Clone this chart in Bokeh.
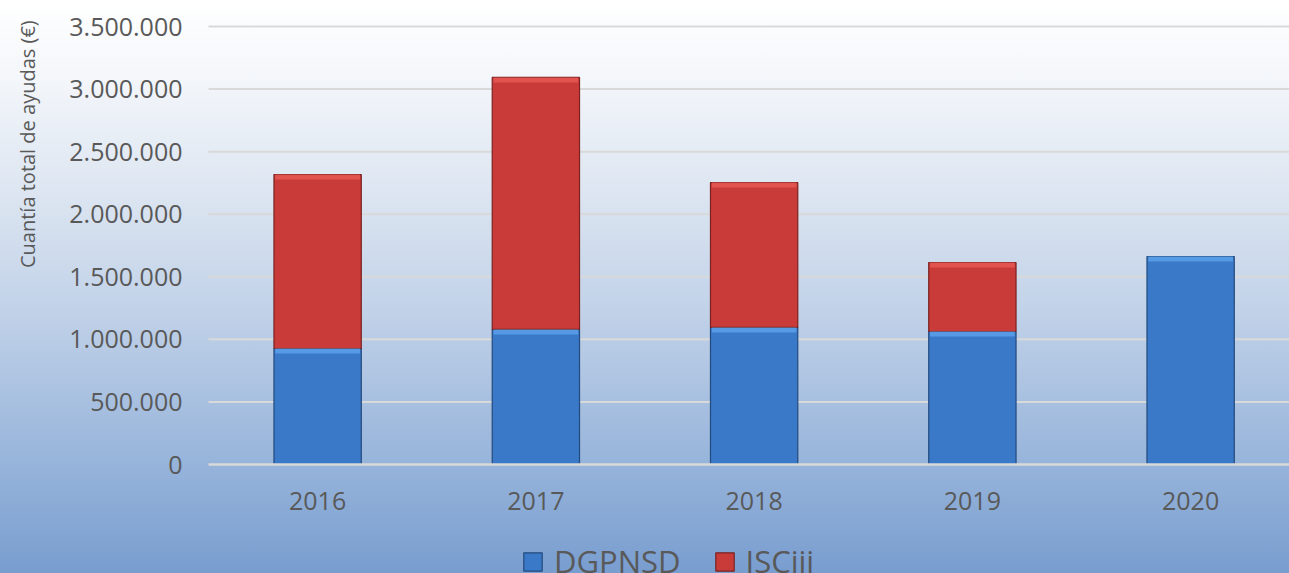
import math
from bokeh.plotting import figure
from bokeh.models import (Range1d, FixedTicker, Legend, LegendItem, Label,
                          ColumnDataSource, GlobalInlineStyleSheet)
from bokeh.embed import file_html
from bokeh.resources import INLINE

# ---- data ----
years = ["2016", "2017", "2018", "2019", "2020"]
dgpnsd = [927000, 1079000, 1095000, 1063000, 1662000]
isciii = [1390000, 2014000, 1158000, 551000, 0]
y_ticks = [0, 500000, 1000000, 1500000, 2000000, 2500000, 3000000, 3500000]
y_tick_labels = ["0", "500.000", "1.000.000", "1.500.000", "2.000.000",
                 "2.500.000", "3.000.000", "3.500.000"]
y_title = "Cuantía total de ayudas (€)"

idx = list(range(len(years)))
total = [a + b for a, b in zip(dgpnsd, isciii)]

FONT = "Open Sans"
TXT = "#595959"
GRID = "#d9d9d9"

W, H = 1289, 573
X0, X1 = -1.453, 4.453          # visible x window (category units)
Y0, Y1 = -871000, 3707800       # visible y window
p = figure(width=W, height=H, output_backend="svg", toolbar_location=None,
           x_range=Range1d(X0, X1), y_range=Range1d(Y0, Y1),
           min_border=0)
p.background_fill_alpha = 0
p.border_fill_alpha = 0
p.outline_line_color = None

p.stylesheets = [GlobalInlineStyleSheet(css=
    "html{height:100%;background:linear-gradient(to bottom,#ffffff 0%,#f3f6fa 14%,"
    "#dce5f1 34%,#c0d1e8 55%,#98b5db 80%,#789dcf 100%);}"
    "body{background:transparent;}")]

# gridlines (start at the left edge of the first category band)
grid_vals = [t for t in y_ticks if t > 0]
p.segment(x0=-0.5, x1=X1, y0=grid_vals, y1=grid_vals,
          line_color=GRID, line_width=2)

src = ColumnDataSource(dict(x=idx, d=dgpnsd, t=total,
                            dh=[v - 40000 for v in dgpnsd]))
bw = 0.40
blue = p.vbar(x="x", bottom=0, top="d", width=bw, source=src,
              fill_color="#3a78c8", line_color="#234a7c", line_width=1.2)
keep = [i for i, v in enumerate(isciii) if v > 0]
red_src = ColumnDataSource(dict(x=[idx[i] for i in keep],
                                b=[dgpnsd[i] for i in keep],
                                t=[total[i] for i in keep],
                                th=[total[i] - 40000 for i in keep]))
red = p.vbar(x="x", bottom="b", top="t", width=bw, source=red_src,
             fill_color="#c93b38", line_color="#7a2221", line_width=1.2)
# bevel highlights
p.vbar(x="x", bottom="dh", top="d", width=bw - 0.012, source=src,
       fill_color="#5ea2ec", fill_alpha=0.8, line_color=None)
p.vbar(x="x", bottom="th", top="t", width=bw - 0.012, source=red_src,
       fill_color="#e85a55", fill_alpha=0.8, line_color=None)

# x axis placed at y = 0
p.xaxis.fixed_location = 0
p.xaxis.bounds = (-0.5, X1)
p.xaxis.ticker = FixedTicker(ticks=idx)
p.xaxis.major_label_overrides = {i: y for i, y in zip(idx, years)}
p.xaxis.major_tick_line_color = None
p.xaxis.major_tick_out = 0
p.xaxis.major_tick_in = 0
p.xaxis.minor_tick_line_color = None
p.xaxis.axis_line_color = GRID
p.xaxis.axis_line_width = 2.5
p.xaxis.major_label_text_font = FONT
p.xaxis.major_label_text_font_size = "25px"
p.xaxis.major_label_text_color = TXT
p.xaxis.major_label_standoff = 27

# y axis placed at the left edge of the first category band
p.yaxis.fixed_location = -0.5
p.yaxis.ticker = FixedTicker(ticks=y_ticks)
p.yaxis.major_label_overrides = {t: l for t, l in zip(y_ticks, y_tick_labels)}
p.yaxis.major_tick_line_color = None
p.yaxis.major_tick_out = 0
p.yaxis.major_tick_in = 0
p.yaxis.minor_tick_line_color = None
p.yaxis.axis_line_color = None
p.yaxis.major_label_text_font = FONT
p.yaxis.major_label_text_font_size = "25px"
p.yaxis.major_label_text_color = TXT
p.yaxis.major_label_standoff = 26

p.xgrid.grid_line_color = None
p.ygrid.grid_line_color = None

p.add_layout(Label(x=27, y=2560000, x_units="screen", y_units="data",
                   text=y_title, angle=math.pi / 2, text_align="center",
                   text_baseline="middle", text_font=FONT,
                   text_font_size="20px", text_color=TXT))

legend = Legend(items=[LegendItem(label="DGPNSD", renderers=[blue]),
                       LegendItem(label="ISCiii", renderers=[red])],
                orientation="horizontal", location=(521, -9),
                glyph_width=23, glyph_height=23, label_standoff=10,
                spacing=32, padding=0, margin=0,
                border_line_color=None, background_fill_alpha=0,
                label_text_font=FONT, label_text_font_size="31px",
                label_text_color=TXT)
p.add_layout(legend, "center")

open("out.html", "w").write(file_html(p, INLINE))
